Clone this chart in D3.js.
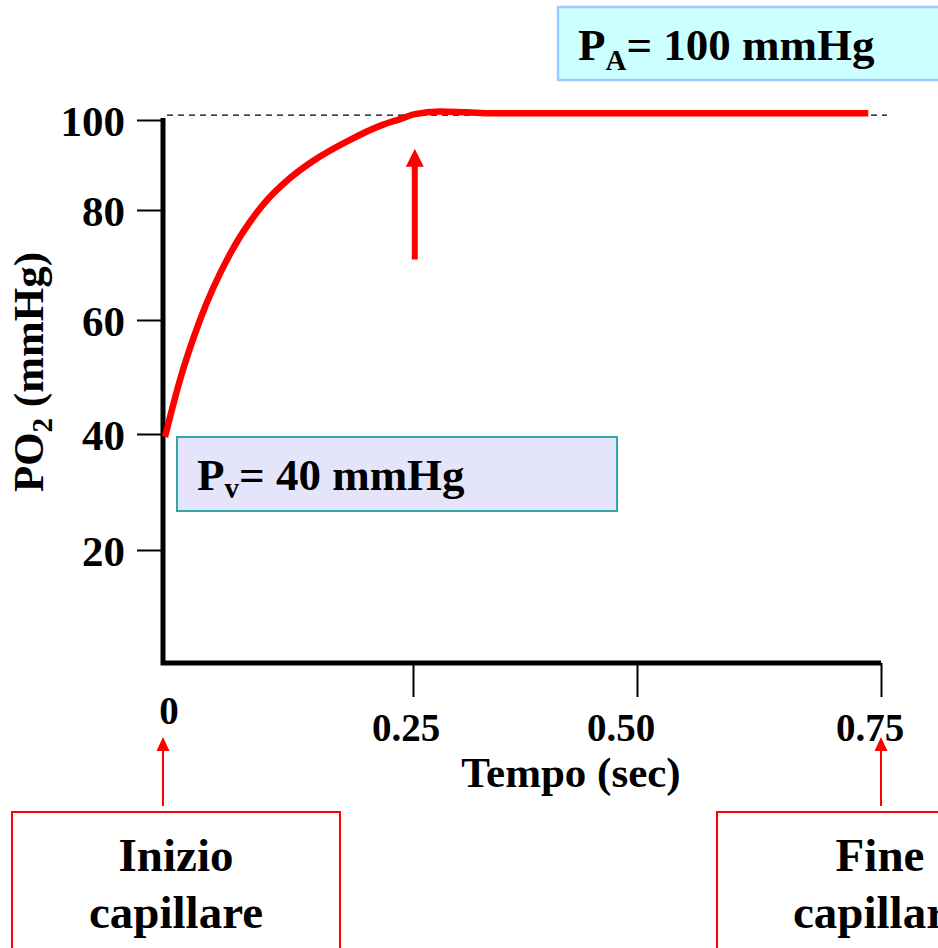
<!DOCTYPE html>
<html>
<head>
<meta charset="utf-8">
<script src="https://cdn.jsdelivr.net/npm/d3@7"></script>
<style>
  html, body { margin: 0; padding: 0; background: #ffffff; overflow: hidden; }
  svg { display: block; font-family: "Liberation Serif", "Times New Roman", serif; font-weight: bold; }
</style>
</head>
<body>
<svg id="chart" width="938" height="948"></svg>
<script>
// ---------------- data ----------------
const timeSec = [0.002, 0.017, 0.037, 0.067, 0.099, 0.127, 0.15, 0.187, 0.217, 0.237, 0.252, 0.28, 0.31, 0.34, 0.737];
const po2mmHg = [39.5, 49.5, 60, 72, 80.9, 87.1, 90.9, 95.6, 98.7, 100.2, 101.3, 101.9, 101.7, 101.5, 101.5];
const yTicks = [20, 40, 60, 80, 100];
const xTicks = [0, 0.25, 0.50, 0.75];
const xTickLabels = ["0", "0.25", "0.50", "0.75"];
const alveolarPO2 = 101.1;   // dashed P_A reference
const arrowTime = 0.252;      // equilibrium marker
const arrowFromTo = [71, 93.6];

// ---------------- scales (hand-drawn slide: piecewise linear) ----------------
const svg = d3.select("#chart");
const x = d3.scaleLinear().domain([0, 0.25, 0.50, 0.75]).range([163, 413, 637, 881]);
const y = d3.scaleLinear().domain([0, 20, 40, 60, 80, 100]).range([663, 550, 434, 320, 210, 120]);

const RED = "#ff0000";

// ---------------- top box P_A ----------------
svg.append("rect").attr("x", 558).attr("y", 7).attr("width", 400).attr("height", 73)
  .attr("fill", "#ccffff").attr("stroke", "#99ccff").attr("stroke-width", 2.5);
const tA = svg.append("text").attr("x", 578).attr("y", 60).attr("font-size", 45).attr("fill", "#000");
tA.append("tspan").text("P");
tA.append("tspan").attr("font-size", 29).attr("dy", 10).text("A");
tA.append("tspan").attr("dy", -10).text("= 100 mmHg");

// ---------------- dashed reference ----------------
svg.append("line")
  .attr("x1", x(0) + 4).attr("x2", 887)
  .attr("y1", y(alveolarPO2)).attr("y2", y(alveolarPO2))
  .attr("stroke", "#000").attr("stroke-width", 1.3).attr("stroke-dasharray", "6,5");

// ---------------- axes ----------------
const yAxis = d3.axisLeft(y).tickValues(yTicks).tickSize(26).tickPadding(12).tickFormat(d3.format("d"));
const gy = svg.append("g").attr("transform", `translate(${x(0)},0)`).call(yAxis);
gy.select(".domain").remove();
gy.selectAll(".tick line").attr("stroke", "#000").attr("stroke-width", 2);
gy.selectAll(".tick text").attr("font-size", 43).attr("font-family", "Liberation Serif")
  .attr("font-weight", "bold").attr("fill", "#000").attr("dy", "0.36em");

const xAxis = d3.axisBottom(x).tickValues(xTicks.slice(1)).tickSize(34).tickFormat("");
const gx = svg.append("g").attr("transform", `translate(0,${y(0)})`).call(xAxis);
gx.select(".domain").remove();
gx.selectAll(".tick line").attr("stroke", "#000").attr("stroke-width", 2);

// heavy axis lines
svg.append("path")
  .attr("d", `M${x(0)},${y(100) - 2}V${y(0)}H${x(0.75)}`)
  .attr("fill", "none").attr("stroke", "#000").attr("stroke-width", 5);

// x tick labels
const nudge = [[6, -17], [-7, 0], [-16, 0], [-11, 0]];
svg.append("g").selectAll("text").data(xTicks).join("text")
  .attr("x", (d, i) => x(d) + nudge[i][0])
  .attr("y", (d, i) => 741 + nudge[i][1])
  .attr("text-anchor", "middle").attr("font-size", 39).attr("fill", "#000")
  .text((d, i) => xTickLabels[i]);

// axis titles
svg.append("text").attr("x", 571).attr("y", 787).attr("text-anchor", "middle")
  .attr("font-size", 43).attr("fill", "#000").text("Tempo (sec)");
const ty = svg.append("text").attr("transform", "translate(43,372) rotate(-90)")
  .attr("text-anchor", "middle").attr("font-size", 43).attr("fill", "#000");
ty.append("tspan").text("PO");
ty.append("tspan").attr("font-size", 29).attr("dy", 9).text("2");
ty.append("tspan").attr("dy", -9).text(" (mmHg)");

// ---------------- P_v box ----------------
svg.append("rect").attr("x", 177).attr("y", 437).attr("width", 440).attr("height", 74)
  .attr("fill", "#e4e4fb").attr("stroke", "#33a6a6").attr("stroke-width", 2);
const tV = svg.append("text").attr("x", 197).attr("y", 490).attr("font-size", 45).attr("fill", "#000");
tV.append("tspan").text("P");
tV.append("tspan").attr("font-size", 29).attr("dy", 8).text("v");
tV.append("tspan").attr("dy", -8).text("= 40 mmHg");

// ---------------- curve ----------------
const pts = timeSec.map((t, i) => [t, po2mmHg[i]]);
svg.append("path").datum(pts)
  .attr("d", d3.line().x(d => x(d[0])).y(d => y(d[1])).curve(d3.curveMonotoneX))
  .attr("fill", "none").attr("stroke", RED).attr("stroke-width", 6.5).attr("stroke-linecap", "butt");

// ---------------- arrows ----------------
function arrow(xp, yBottom, yTip, shaftW, headW, headH) {
  svg.append("line").attr("x1", xp).attr("x2", xp).attr("y1", yBottom).attr("y2", yTip + headH - 1)
    .attr("stroke", RED).attr("stroke-width", shaftW);
  svg.append("path")
    .attr("d", `M${xp},${yTip}L${xp + headW / 2},${yTip + headH}L${xp - headW / 2},${yTip + headH}Z`)
    .attr("fill", RED);
}
arrow(x(arrowTime), y(arrowFromTo[0]), y(arrowFromTo[1]), 6, 18, 18);
arrow(x(0), 806, 737, 2, 13, 14);
arrow(x(0.75), 806, 737, 2, 13, 14);

// ---------------- bottom boxes ----------------
svg.append("rect").attr("x", 12).attr("y", 812).attr("width", 328).attr("height", 160)
  .attr("fill", "#fff").attr("stroke", RED).attr("stroke-width", 2);
svg.append("rect").attr("x", 717).attr("y", 812).attr("width", 300).attr("height", 160)
  .attr("fill", "#fff").attr("stroke", RED).attr("stroke-width", 2);
[["Inizio", 176, 871], ["capillare", 176, 928], ["Fine", 880, 871], ["capillare", 880, 928]].forEach(([s, cx, cy]) => {
  svg.append("text").attr("x", cx).attr("y", cy).attr("text-anchor", "middle")
    .attr("font-size", 47).attr("fill", "#000").text(s);
});
</script>
</body>
</html>
